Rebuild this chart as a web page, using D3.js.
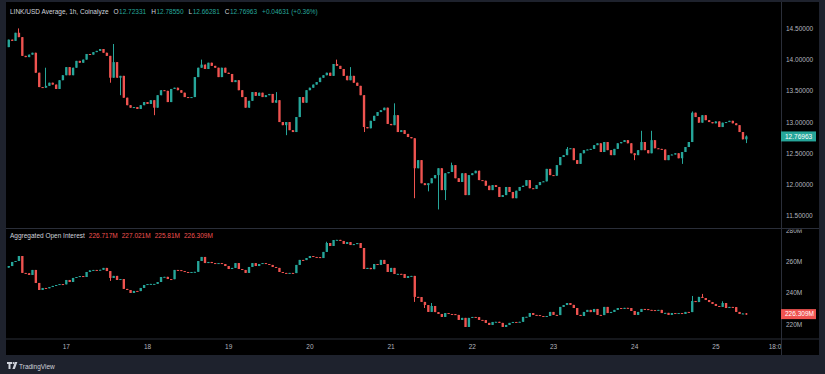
<!DOCTYPE html>
<html>
<head>
<meta charset="utf-8">
<script src="https://cdn.jsdelivr.net/npm/d3@7"></script>
<style>
  html, body { margin: 0; padding: 0; background: #1e222d; }
  svg { display: block; }
  text { font-family: "Liberation Sans", Arial, sans-serif; }
</style>
</head>
<body>
<div id="chart"></div>
<script>
// LINK/USD 1h candles, 16th 07:00 -> 25th 09:00 (closes; open = previous close)
const priceFirstOpen = 14.20;
const priceClose = [
  14.32, 14.30, 14.43, 14.36, 14.06, 14.04, 14.08, 14.11, 13.79, 13.56,
  13.55, 13.58, 13.63, 13.60, 13.53, 13.67, 13.75, 13.88, 13.75, 13.87,
  13.98, 13.95, 14.00, 14.09, 14.08, 14.12, 14.14, 14.17, 14.11, 14.06,
  13.71, 13.96, 13.71, 13.74, 13.39, 13.27, 13.23, 13.24, 13.21, 13.27,
  13.32, 13.29, 13.35, 13.23, 13.43, 13.51, 13.50, 13.32, 13.53, 13.55,
  13.51, 13.47, 13.40, 13.39, 13.40, 13.72, 13.87, 13.92, 13.85, 13.95,
  13.90, 13.87, 13.72, 13.87, 13.79, 13.77, 13.64, 13.67, 13.51, 13.40,
  13.23, 13.34, 13.48, 13.42, 13.47, 13.40, 13.43, 13.45, 13.31, 13.35,
  13.00, 12.95, 13.00, 12.87, 12.84, 13.08, 13.40, 13.31, 13.51, 13.55,
  13.60, 13.64, 13.71, 13.75, 13.79, 13.74, 13.93, 13.90, 13.85, 13.74,
  13.67, 13.74, 13.63, 13.58, 13.43, 12.92, 12.90, 13.02, 13.10, 13.16,
  13.19, 13.23, 12.97, 12.95, 13.11, 12.84, 12.87, 12.81, 12.76, 12.74,
  12.26, 12.39, 12.02, 11.99, 12.02, 12.10, 12.15, 12.26, 11.91, 12.18,
  12.20, 12.31, 12.10, 12.04, 12.18, 11.83, 12.15, 12.18, 12.22, 12.07,
  12.06, 11.98, 11.91, 11.99, 11.96, 11.80, 11.83, 11.96, 11.88, 11.78,
  11.90, 11.96, 11.98, 12.07, 11.94, 11.93, 11.99, 12.04, 12.05, 12.25,
  12.15, 12.14, 12.31, 12.44, 12.47, 12.57, 12.58, 12.39, 12.33, 12.50,
  12.55, 12.56, 12.57, 12.63, 12.66, 12.52, 12.68, 12.55, 12.47, 12.57,
  12.66, 12.68, 12.71, 12.66, 12.50, 12.47, 12.55, 12.68, 12.55, 12.50,
  12.71, 12.58, 12.57, 12.56, 12.39, 12.47, 12.48, 12.50, 12.42, 12.52,
  12.60, 12.68, 13.15, 13.08, 12.99, 13.11, 13.03, 13.00, 12.98, 13.01,
  12.92, 12.99, 13.00, 13.02, 12.98, 12.95, 12.84, 12.72331, 12.76963
];
// visible wicks only: [index, high, low]
const priceWicks = [
  [3, 14.50, null], [11, 13.87, null], [30, null, 13.63], [31, 14.25, null],
  [33, null, 13.43], [43, null, 13.11], [57, 14.00, null], [79, 13.48, null],
  [82, null, 12.79], [97, 14.00, null], [101, 13.88, null], [105, null, 12.84],
  [114, 13.30, null], [120, null, 11.78], [124, null, 11.89], [127, null, 11.60],
  [129, null, 11.75], [131, 12.35, null], [165, 12.60, null], [185, null, 12.39],
  [187, 12.86, null], [190, 12.86, null], [199, null, 12.33], [202, 13.17, null],
  [218, 12.7855, 12.66281]
];

// Aggregated open interest, millions
const oiFirstOpen = 256.0;
const oiClose = [
  257.0, 259.6, 260.2, 263.4, 252.6, 252.4, 251.3, 254.5, 246.2, 241.7,
  243.0, 242.8, 243.6, 244.3, 244.9, 245.5, 245.3, 248.1, 246.8, 249.4,
  250.0, 250.6, 250.0, 253.2, 254.2, 254.5, 254.4, 254.6, 255.8, 253.8,
  249.4, 250.7, 248.1, 248.7, 242.4, 241.7, 239.8, 241.1, 241.0, 243.0,
  244.9, 245.5, 245.6, 245.6, 246.8, 250.0, 250.1, 248.7, 248.6, 254.5,
  254.4, 253.8, 253.2, 253.1, 253.2, 253.3, 260.2, 262.8, 258.9, 259.6,
  258.9, 258.8, 258.9, 258.3, 257.0, 255.1, 255.8, 258.9, 255.1, 254.5,
  252.6, 256.4, 258.9, 257.0, 258.3, 258.9, 258.3, 257.7, 256.4, 255.8,
  253.2, 252.6, 252.5, 252.6, 252.5, 257.7, 260.9, 260.8, 262.1, 263.4,
  262.8, 262.7, 262.1, 266.0, 271.7, 269.8, 273.6, 273.7, 273.0, 271.1,
  272.3, 270.4, 271.0, 271.7, 268.5, 255.1, 255.8, 255.0, 258.3, 257.7,
  260.9, 258.3, 253.2, 255.8, 251.9, 252.0, 251.9, 249.4, 250.6, 250.7,
  237.3, 237.2, 234.1, 232.1, 227.7, 231.5, 227.6, 226.4, 224.5, 227.0,
  226.4, 226.3, 225.8, 222.6, 223.9, 218.1, 223.9, 224.5, 224.4, 222.6,
  222.5, 220.7, 219.4, 221.3, 221.4, 220.7, 218.1, 219.4, 220.7, 221.3,
  221.2, 221.4, 224.5, 224.6, 227.0, 225.8, 225.7, 225.1, 224.5, 225.1,
  227.7, 225.8, 225.7, 230.9, 232.1, 233.4, 232.2, 230.2, 225.8, 225.1,
  227.7, 229.0, 227.6, 229.6, 225.8, 225.7, 230.9, 227.0, 227.7, 229.0,
  230.2, 229.6, 230.3, 230.2, 228.3, 225.8, 227.7, 229.6, 229.5, 229.0,
  228.9, 228.8, 229.0, 227.0, 227.1, 225.8, 227.0, 226.9, 227.0, 226.4,
  227.7, 227.6, 234.7, 234.0, 237.3, 236.6, 235.3, 234.0, 232.8, 231.5,
  230.9, 233.4, 230.2, 230.9, 230.8, 227.7, 226.4, 226.717, 226.309
];
const oiWicks = [
  [30, null, 247.5], [94, 272.5, null], [120, 246.2, 234.1], [123, null, 230.2],
  [125, 233.4, null], [202, 237.9, null], [205, 239.2, null], [211, 234.5, null],
  [218, 227.021, 225.81]
];

const priceTicks = [11.5, 12, 12.5, 13, 13.5, 14, 14.5];
const oiTicks = [220, 240, 260, 280];
const dayTicks = [17, 18, 19, 20, 21, 22, 23, 24, 25];
const priceLegend = [['O', '12.72331'], ['H', '12.78550'], ['L', '12.66281'], ['C', '12.76963'], ['', '+0.04631 (+0.36%)']];
const oiLegend = ['226.717M', '227.021M', '225.81M', '226.309M'];

const W = 825, H = 374;
const UP = '#26a69a', DOWN = '#ef5350';
const padL = 6, padR = 819, axisX = 781;
const padT = 2, paneSep = 228.5, timeTop = 339, padB = 355;

const hour = 3600 * 1000;
const t0 = Date.UTC(2025, 0, 16, 7);
const dayDate = (d, h = 0) => new Date(Date.UTC(2025, 0, d, h));

function buildCandles(first, closes, wicks) {
  const wmap = new Map(wicks.map((w) => [w[0], w]));
  return closes.map((c, i) => {
    const o = i === 0 ? first : closes[i - 1];
    const w = wmap.get(i);
    let hi = Math.max(o, c), lo = Math.min(o, c);
    if (w && w[1] != null) hi = Math.max(hi, w[1]);
    if (w && w[2] != null) lo = Math.min(lo, w[2]);
    return { t: new Date(t0 + i * hour), o, c, hi, lo };
  });
}
const priceData = buildCandles(priceFirstOpen, priceClose, priceWicks);
const oiData = buildCandles(oiFirstOpen, oiClose, oiWicks);

const x = d3.scaleUtc()
  .domain([dayDate(16), dayDate(26)])
  .range([65.8 - 81.2, 65.8 + 9 * 81.2]);
const yP = d3.scaleLinear().domain([11.5, 14.5]).range([215.7, 28.4]);
const yO = d3.scaleLinear().domain([220, 280]).range([324, 230]);

const svg = d3.select('#chart').append('svg').attr('width', W).attr('height', H);
svg.append('rect').attr('width', W).attr('height', H).attr('fill', '#1e222d');
svg.append('rect').attr('x', padL).attr('y', padT).attr('width', padR - padL)
  .attr('height', padB - padT).attr('fill', '#000');

const defs = svg.append('defs');
defs.append('clipPath').attr('id', 'clipP').append('rect')
  .attr('x', padL).attr('y', padT).attr('width', axisX - padL).attr('height', paneSep - padT);
defs.append('clipPath').attr('id', 'clipO').append('rect')
  .attr('x', padL).attr('y', paneSep).attr('width', axisX - padL).attr('height', timeTop - paneSep);
defs.append('clipPath').attr('id', 'clipT').append('rect')
  .attr('x', padL).attr('y', timeTop).attr('width', axisX - padL).attr('height', padB - timeTop);
defs.append('clipPath').attr('id', 'clipOA').append('rect')
  .attr('x', axisX).attr('y', paneSep + 1).attr('width', padR - axisX).attr('height', timeTop - paneSep - 1);

const bw = Math.max(1, (x(dayDate(17, 1)) - x(dayDate(17))) * 0.7);

function drawCandles(g, data, y) {
  const c = g.selectAll('g.candle').data(data).join('g').attr('class', 'candle');
  c.append('line')
    .attr('x1', (d) => Math.round(x(d.t)) + 0.5).attr('x2', (d) => Math.round(x(d.t)) + 0.5)
    .attr('y1', (d) => y(d.hi)).attr('y2', (d) => y(d.lo))
    .attr('stroke', (d) => (d.c >= d.o ? UP : DOWN)).attr('stroke-width', 1);
  c.append('rect')
    .attr('x', (d) => x(d.t) - bw / 2 + 0.5).attr('width', bw)
    .attr('y', (d) => y(Math.max(d.o, d.c)))
    .attr('height', (d) => Math.max(1, Math.abs(y(d.o) - y(d.c))))
    .attr('fill', (d) => (d.c >= d.o ? UP : DOWN));
}

drawCandles(svg.append('g').attr('clip-path', 'url(#clipP)'), priceData, yP);
drawCandles(svg.append('g').attr('clip-path', 'url(#clipO)'), oiData, yO);

// separators
const lineCol = '#2a2e39';
svg.append('line').attr('x1', padL).attr('x2', padR).attr('y1', paneSep).attr('y2', paneSep)
  .attr('stroke', lineCol);
svg.append('line').attr('x1', padL).attr('x2', padR).attr('y1', timeTop).attr('y2', timeTop)
  .attr('stroke', lineCol);
svg.append('line').attr('x1', axisX + 0.5).attr('x2', axisX + 0.5).attr('y1', padT).attr('y2', padB)
  .attr('stroke', lineCol);

const axisCol = '#b2b5be';
function styleAxis(g) {
  g.select('.domain').remove();
  g.selectAll('text').attr('fill', axisCol).style('font-size', '6.5px')
    .style('font-family', '"Liberation Sans", Arial, sans-serif');
}

svg.append('g').attr('transform', `translate(${axisX},0)`)
  .call(d3.axisRight(yP).tickValues(priceTicks).tickFormat(d3.format('.5f')).tickSize(0).tickPadding(5))
  .call(styleAxis);

svg.append('g').attr('clip-path', 'url(#clipOA)')
  .append('g').attr('transform', `translate(${axisX},0)`)
  .call(d3.axisRight(yO).tickValues(oiTicks).tickFormat((d) => d + 'M').tickSize(0).tickPadding(5))
  .call(styleAxis);

const timeTicks = dayTicks.map((d) => dayDate(d)).concat([dayDate(25, 18)]);
svg.append('g').attr('clip-path', 'url(#clipT)')
  .append('g').attr('transform', `translate(0,${timeTop})`)
  .call(d3.axisBottom(x).tickValues(timeTicks)
    .tickFormat((d) => (d.getUTCHours() ? d3.utcFormat('%H:%M')(d) : String(d.getUTCDate())))
    .tickSize(0).tickPadding(5))
  .call(styleAxis);

// last value labels
function lastLabel(y, v, txt, col) {
  const g = svg.append('g');
  g.append('rect').attr('x', axisX).attr('y', y(v) - 5).attr('width', 35).attr('height', 10)
    .attr('fill', col);
  g.append('text').attr('x', axisX + 4).attr('y', y(v)).attr('dy', '0.35em')
    .attr('fill', '#fff').style('font-size', '6.5px').text(txt);
}
const lastP = priceData[priceData.length - 1];
const lastO = oiData[oiData.length - 1];
lastLabel(yP, lastP.c, priceLegend[3][1], lastP.c >= lastP.o ? UP : DOWN);
lastLabel(yO, lastO.c, oiLegend[3], lastO.c >= lastO.o ? UP : DOWN);

// legends
const legP = svg.append('text').attr('x', 10).attr('y', 14).style('font-size', '6.5px');
legP.append('tspan').attr('fill', '#d1d4dc').text('LINK/USD Average, 1h, Coinalyze');
const pCol = lastP.c >= lastP.o ? UP : DOWN;
priceLegend.forEach(([k, v]) => {
  if (k) legP.append('tspan').attr('dx', 5).attr('fill', '#d1d4dc').text(k);
  legP.append('tspan').attr('dx', k ? 0.5 : 5).attr('fill', pCol).text(v);
});

const legO = svg.append('text').attr('x', 10).attr('y', 238).style('font-size', '6.5px');
legO.append('tspan').attr('fill', '#d1d4dc').text('Aggregated Open Interest');
const oCol = lastO.c >= lastO.o ? UP : DOWN;
oiLegend.forEach((s) => legO.append('tspan').attr('dx', 4).attr('fill', oCol).text(s));

// TradingView mark
const logo = svg.append('g').attr('transform', 'translate(7,362)').attr('fill', '#d1d4dc');
logo.append('path').attr('d', 'M0,0h5v2h-1.5v5h-2v-5h-1.5z');
logo.append('circle').attr('cx', 6.6).attr('cy', 1.1).attr('r', 1.1);
logo.append('path').attr('d', 'M8,0h2.4l-2.6,7h-2.4z');
svg.append('text').attr('x', 19).attr('y', 368.5).attr('fill', '#d1d4dc')
  .style('font-size', '6.5px').text('TradingView');
</script>
</body>
</html>
